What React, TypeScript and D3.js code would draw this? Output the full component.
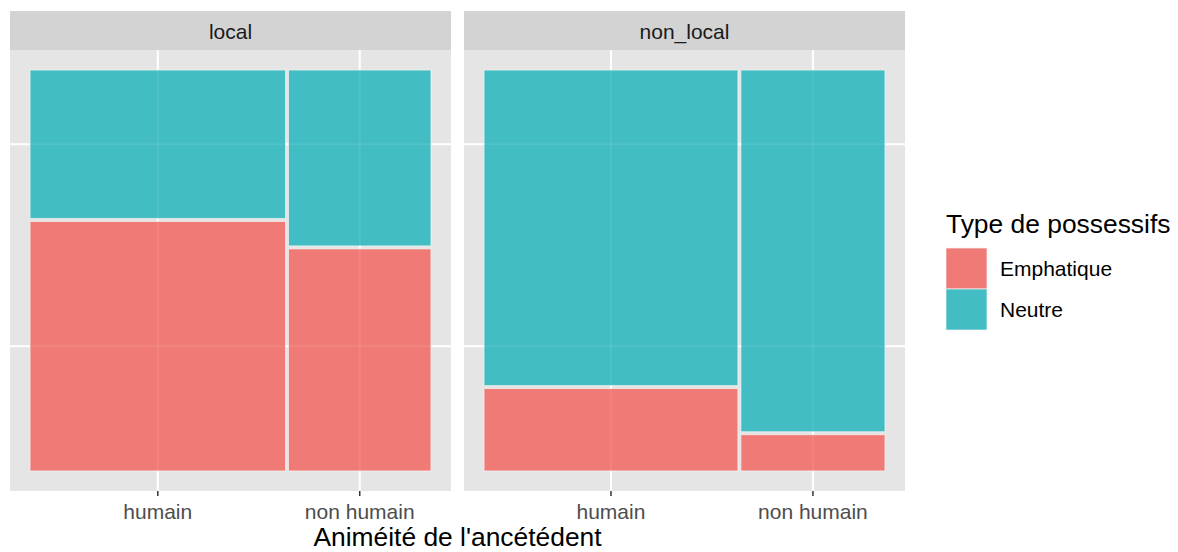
import React from "react";
import * as d3 from "d3";

// ---- data ----
const facets = ["local", "non_local"];
const animacy = ["humain", "non humain"];
const possType = ["Emphatique", "Neutre"];
// share of each animacy column within a facet
const colShareLocal = [0.642, 0.358];
const colShareNonLocal = [0.638, 0.362];
// share of "Emphatique" within each column
const emphShareLocal = [0.627, 0.558];
const emphShareNonLocal = [0.207, 0.091];

const xTitle = "Animéité de l'ancétédent";
const legendTitle = "Type de possessifs";

const colors: Record<string, string> = {
  Emphatique: "#F07A75",
  Neutre: "#41BDC3",
};

const W = 1178;
const H = 552;
const FONT = "'Liberation Sans', Arial, Helvetica, sans-serif";

const panelTop = 50;
const panelBottom = 491;
const stripTop = 11;
const panelLefts = [10, 464];
const panelWidth = 441;
const gap = 0.0075;

type Tile = { x0: number; x1: number; y0: number; y1: number; type: string };

function buildTiles(colShare: number[], emphShare: number[]) {
  const tiles: Tile[] = [];
  const centers: number[] = [];
  const yCenters: number[][] = [];
  const usableX = 1 - gap * (colShare.length - 1);
  let x = 0;
  colShare.forEach((s, i) => {
    const w = s * usableX;
    const usableY = 1 - gap;
    const e = emphShare[i] * usableY;
    const n = (1 - emphShare[i]) * usableY;
    tiles.push({ x0: x, x1: x + w, y0: 0, y1: e, type: possType[0] });
    tiles.push({ x0: x, x1: x + w, y0: e + gap, y1: e + gap + n, type: possType[1] });
    centers.push(x + w / 2);
    yCenters.push([e / 2, e + gap + n / 2]);
    x += w + gap;
  });
  return { tiles, centers, yCenters };
}

export default function App() {
  const y = d3.scaleLinear().domain([-0.05, 1.05]).range([panelBottom, panelTop]);
  const panelsData = [
    buildTiles(colShareLocal, emphShareLocal),
    buildTiles(colShareNonLocal, emphShareNonLocal),
  ];
  // y breaks from the first column of the first panel
  const yBreaks = panelsData[0].yCenters[0];

  return (
    <svg
      width={W}
      height={H}
      style={{ position: "absolute", left: 0, top: 0, display: "block", background: "#fff" }}
      fontFamily={FONT}
    >
      {facets.map((f, pi) => {
        const left = panelLefts[pi];
        const x = d3.scaleLinear().domain([-0.05, 1.05]).range([left, left + panelWidth]);
        const pd = panelsData[pi];
        return (
          <g key={f}>
            {/* strip */}
            <rect x={left} y={stripTop} width={panelWidth} height={panelTop - stripTop} fill="#D3D3D3" />
            <text
              x={left + panelWidth / 2}
              y={39}
              textAnchor="middle"
              fontSize={21}
              fill="#1A1A1A"
            >
              {f}
            </text>
            {/* panel background */}
            <rect x={left} y={panelTop} width={panelWidth} height={panelBottom - panelTop} fill="#E5E5E5" />
            {/* grid */}
            {yBreaks.map((b, i) => (
              <line key={"gy" + i} x1={left} x2={left + panelWidth} y1={y(b)} y2={y(b)} stroke="#fff" strokeWidth={2} />
            ))}
            {pd.centers.map((c, i) => (
              <line key={"gx" + i} x1={x(c)} x2={x(c)} y1={panelTop} y2={panelBottom} stroke="#fff" strokeWidth={2} />
            ))}
            {/* tiles */}
            {pd.tiles.map((t, i) => (
              <rect
                key={"t" + i}
                x={x(t.x0)}
                y={y(t.y1)}
                width={x(t.x1) - x(t.x0)}
                height={y(t.y0) - y(t.y1)}
                fill={colors[t.type]}
                stroke="#F4F4F4"
                strokeOpacity={0.7}
                strokeWidth={1}
              />
            ))}
            {/* faint grid through tiles */}
            {yBreaks.map((b, i) => (
              <line key={"gy2" + i} x1={left} x2={left + panelWidth} y1={y(b)} y2={y(b)} stroke="#fff" strokeOpacity={0.08} strokeWidth={2} />
            ))}
            {pd.centers.map((c, i) => (
              <line key={"gx2" + i} x1={x(c)} x2={x(c)} y1={panelTop} y2={panelBottom} stroke="#fff" strokeOpacity={0.08} strokeWidth={2} />
            ))}
            {/* x ticks & labels */}
            {pd.centers.map((c, i) => (
              <g key={"xt" + i}>
                <line x1={x(c)} x2={x(c)} y1={panelBottom} y2={panelBottom + 5} stroke="#333" strokeWidth={1.5} />
                <text x={x(c)} y={519} textAnchor="middle" fontSize={21} fill="#4D4D4D">
                  {animacy[i]}
                </text>
              </g>
            ))}
          </g>
        );
      })}
      {/* axis title */}
      <text
        x={(panelLefts[0] + panelLefts[1] + panelWidth) / 2}
        y={546}
        textAnchor="middle"
        fontSize={26.4}
        fill="#000"
      >
        {xTitle}
      </text>
      {/* legend */}
      <text x={946} y={233} fontSize={26.4} fill="#000">
        {legendTitle}
      </text>
      {possType.map((p, i) => (
        <g key={p}>
          <rect x={946} y={248 + i * 41} width={41} height={41} fill={colors[p]} stroke="#F4F4F4" strokeOpacity={0.7} />
          <text x={1000} y={248 + i * 41 + 20.5 + 7.5} fontSize={21} fill="#000">
            {p}
          </text>
        </g>
      ))}
    </svg>
  );
}
